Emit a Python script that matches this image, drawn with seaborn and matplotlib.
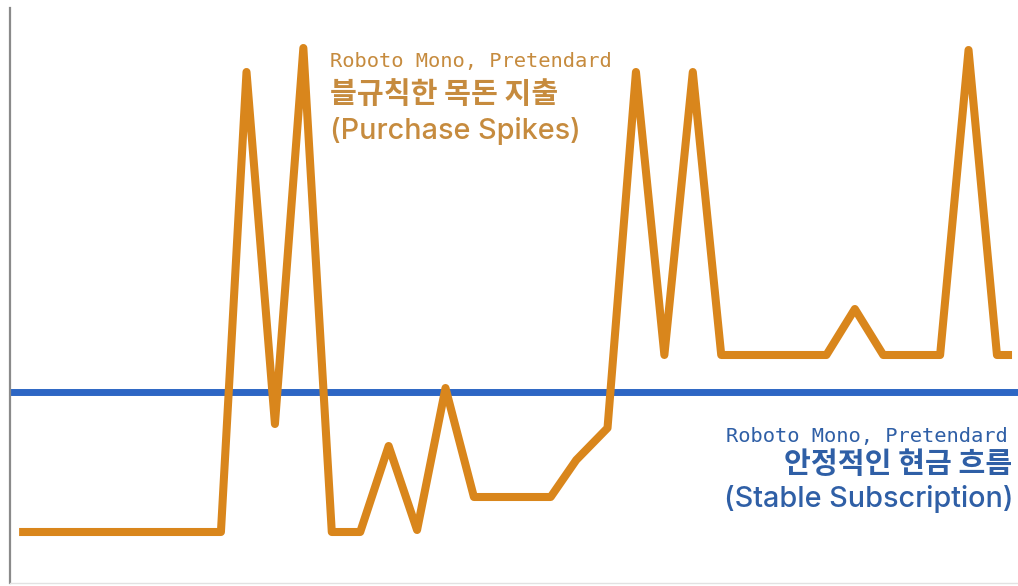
import numpy as np
import pandas as pd
import matplotlib
matplotlib.use("Agg")
import matplotlib.pyplot as plt
import seaborn as sns

# spending series (irregular lump-sum purchases), x = day index
spike_days = [0, 7.1, 8, 9, 10, 11, 12, 13, 14, 15, 16, 18.7, 19.6, 20.7,
              21.7, 22.7, 23.7, 24.7, 28.4, 29.4, 30.4, 32.4, 33.4, 34.4, 34.93]
spike_vals = [5.1, 5.1, 51.1, 15.9, 53.5, 5.1, 5.1, 13.7, 5.3, 19.5, 8.6, 8.6, 12.3, 15.5,
              51.1, 22.8, 51.1, 22.8, 22.8, 27.4, 22.8, 22.8, 53.3, 22.8, 22.8]
# stable subscription cash flow (flat)
stable_val = 19.1

spike_label = ["Roboto Mono, Pretendard", "블규칙한 목돈 지출", "(Purchase Spikes)"]
stable_label = ["Roboto Mono, Pretendard", "안정적인 현금 흐름", "(Stable Subscription)"]

orange = "#d9861c"
orange_txt = "#c68b3e"
blue = "#2d66c4"
blue_txt = "#2f5fa6"

sns.set_theme(style="white")
plt.rcParams['font.family'] = ['Noto Sans CJK KR', 'DejaVu Sans']

fig = plt.figure(figsize=(10.18, 5.86), dpi=100)
ax = fig.add_axes([10 / 1018, 3 / 586, 1 - 10 / 1018, 575 / 586])

df = pd.DataFrame({"day": spike_days, "amount": spike_vals})
sns.lineplot(data=df, x="day", y="amount", ax=ax, color=orange, linewidth=5.8,
             sort=False, estimator=None, solid_joinstyle="round",
             solid_capstyle="butt")
ax.axhline(stable_val, color=blue, linewidth=5.0, zorder=1)

ax.set_xlim(-0.32, 35.14)
ax.set_ylim(0, 57.5)
ax.set_xticks([])
ax.set_yticks([])
ax.set_xlabel("")
ax.set_ylabel("")
for s in ["top", "right"]:
    ax.spines[s].set_visible(False)
ax.spines["left"].set_color("#8a8a8a")
ax.spines["left"].set_linewidth(1.6)
ax.spines["bottom"].set_color("#e2e2e2")
ax.spines["bottom"].set_linewidth(1.0)

W, H = 1018, 586
# purchase spikes annotation
fig.text(330 / W, 1 - 67 / H, spike_label[0], color=orange_txt, fontsize=14.7,
         family="DejaVu Sans Mono", va="baseline", ha="left")
fig.text(330 / W, 1 - 94 / H, spike_label[1], color=orange_txt, fontsize=21,
         weight="bold", va="center", ha="left")
fig.text(330 / W, 1 - 131 / H, spike_label[2], color=orange_txt, fontsize=20.7,
         family=["Inter", "DejaVu Sans"], weight="medium", va="center", ha="left")

# stable subscription annotation
fig.text(1008 / W, 1 - 442 / H, stable_label[0], color=blue_txt, fontsize=14.7,
         family="DejaVu Sans Mono", va="baseline", ha="right")
fig.text(1012 / W, 1 - 464 / H, stable_label[1], color=blue_txt, fontsize=21,
         weight="bold", va="center", ha="right")
fig.text(1013 / W, 1 - 499 / H, stable_label[2], color=blue_txt, fontsize=20.7,
         family=["Inter", "DejaVu Sans"], weight="medium", va="center", ha="right")

fig.savefig("out.png", dpi=100)
